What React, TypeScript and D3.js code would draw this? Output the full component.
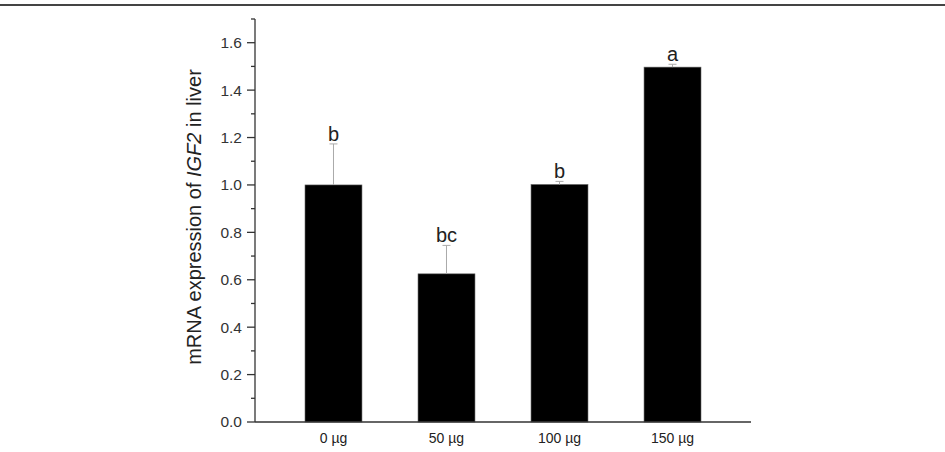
import * as d3 from "d3";

// ---- data ----
const groups = ["0 µg", "50 µg", "100 µg", "150 µg"];
const means = [1.0, 0.625, 1.002, 1.497];
const errors = [0.173, 0.12, 0.013, 0.012];
const letters = ["b", "bc", "b", "a"];
const majorTicks = [0, 0.2, 0.4, 0.6, 0.8, 1.0, 1.2, 1.4, 1.6];
const minorTicks = [0.1, 0.3, 0.5, 0.7, 0.9, 1.1, 1.3, 1.5, 1.7];

export default function App() {
  const width = 945;
  const height = 452;
  const left = 255;
  const right = 751;
  const bottom = 422;
  const top = 19;

  const x = d3
    .scaleBand<string>()
    .domain(groups)
    .range([left, right])
    .paddingInner(0.496)
    .paddingOuter(0.4425);

  const y = d3.scaleLinear().domain([0, 1.7]).range([bottom, top]);

  const font = "Liberation Sans, Arial, sans-serif";

  return (
    <svg
      width={width}
      height={height}
      style={{ position: "absolute", left: 0, top: 0, background: "#fff" }}
      fontFamily={font}
    >
      {/* frame line at top */}
      <line x1={0} x2={width} y1={5} y2={5} stroke="#444" strokeWidth={2} />

      {/* bars */}
      {means.map((m, i) => (
        <rect
          key={groups[i]}
          x={x(groups[i])}
          y={y(m)}
          width={x.bandwidth()}
          height={bottom - y(m)}
          fill="#000"
          stroke="#666"
          strokeWidth={0.6}
        />
      ))}

      {/* error bars (upper only) */}
      {means.map((m, i) => {
        const cx = (x(groups[i]) ?? 0) + x.bandwidth() / 2;
        const yt = y(m + errors[i]);
        return (
          <g key={"e" + i} stroke="#aaa" strokeWidth={1}>
            <line x1={cx} x2={cx} y1={y(m)} y2={yt} />
            <line x1={cx - 4} x2={cx + 4} y1={yt} y2={yt} />
          </g>
        );
      })}

      {/* significance letters */}
      {means.map((m, i) => (
        <text
          key={"l" + i}
          x={(x(groups[i]) ?? 0) + x.bandwidth() / 2}
          y={y(m + errors[i]) - 3}
          textAnchor="middle"
          fontSize={20}
          fill="#222"
        >
          {letters[i]}
        </text>
      ))}

      {/* y axis */}
      <line x1={left} x2={left} y1={top} y2={bottom} stroke="#333" strokeWidth={1.3} />
      {majorTicks.map((t) => (
        <g key={"t" + t}>
          <line x1={left - 8} x2={left} y1={y(t)} y2={y(t)} stroke="#333" strokeWidth={1.3} />
          <text
            x={left - 13}
            y={y(t)}
            dy="0.35em"
            textAnchor="end"
            fontSize={15.5}
            fill="#333"
          >
            {d3.format(".1f")(t)}
          </text>
        </g>
      ))}
      {minorTicks.map((t) => (
        <line
          key={"m" + t}
          x1={left - 4}
          x2={left}
          y1={y(t)}
          y2={y(t)}
          stroke="#333"
          strokeWidth={1.3}
        />
      ))}

      {/* x axis */}
      <line x1={left} x2={right} y1={bottom} y2={bottom} stroke="#333" strokeWidth={1.3} />
      {groups.map((g) => (
        <text
          key={"x" + g}
          x={(x(g) ?? 0) + x.bandwidth() / 2}
          y={443}
          textAnchor="middle"
          fontSize={14}
          fill="#222"
        >
          {g}
        </text>
      ))}

      {/* y axis title */}
      <text
        transform={`translate(201,217) rotate(-90)`}
        textAnchor="middle"
        fontSize={20}
        fill="#222"
      >
        mRNA expression of <tspan fontStyle="italic">IGF2</tspan> in liver
      </text>
    </svg>
  );
}
